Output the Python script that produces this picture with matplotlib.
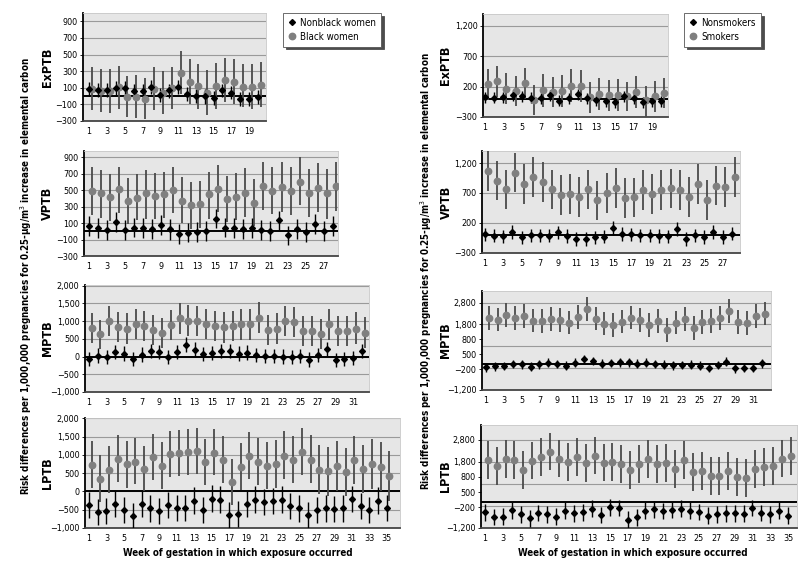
import matplotlib
matplotlib.use("Agg")
import matplotlib.pyplot as plt
import numpy as np

plt.rcParams['font.family'] = ['DejaVu Sans']
plt.rcParams['font.stretch'] = 'condensed'

# ---------------- data: left column (race) ----------------
ex_weeks = list(range(1, 21))
vp_weeks = list(range(1, 29))
mp_weeks = list(range(1, 33))
lp_weeks = list(range(1, 36))

# ExPTB
ex_nb_est = [84, 72, 72, 92, 92, 60, 64, 104, 16, 68, 104, 24, 3, -5, -21, 68, 40, -33, -33, -17]
ex_nb_lo = [0, -10, -15, 5, 10, -30, -25, 20, -70, -20, 20, -60, -85, -90, -105, -10, -40, -120, -120, -100]
ex_nb_hi = [165, 155, 160, 180, 180, 145, 150, 190, 100, 150, 190, 110, 90, 80, 65, 150, 125, 55, 50, 70]
ex_bw_est = [90, 64, 60, 104, -10, -10, -30, 90, 40, 100, 280, 173, 120, 40, 120, 193, 173, 112, 112, 130]
ex_bw_lo = [-163, -190, -203, -150, -251, -260, -272, -163, -210, -160, 20, -90, -150, -223, -150, -70, -90, -130, -150, -130]
ex_bw_hi = [355, 322, 322, 363, 241, 253, 220, 346, 302, 355, 544, 443, 386, 314, 395, 463, 443, 382, 382, 410]

# VPTB
vp_nb_est = [65, 41, 20, 110, 16, 45, 41, 33, 81, 24, -37, -16, -12, 8, 155, 45, 41, 33, 41, 20, 8, 134, -49, 28, -8, 85, 4, 65]
vp_nb_lo = [-55, -80, -100, -10, -105, -75, -80, -90, -40, -100, -155, -135, -130, -115, 35, -75, -80, -90, -80, -100, -115, 15, -165, -95, -130, -35, -120, -55]
vp_nb_hi = [185, 160, 140, 230, 135, 165, 160, 150, 200, 145, 85, 105, 110, 130, 275, 165, 160, 155, 160, 140, 130, 250, 70, 150, 115, 205, 125, 190]
vp_bw_est = [493, 460, 411, 509, 371, 407, 468, 427, 448, 500, 371, 318, 326, 448, 513, 387, 411, 468, 346, 550, 493, 541, 489, 603, 468, 529, 460, 550]
vp_bw_lo = [195, 167, 122, 224, 94, 134, 155, 147, 167, 224, 102, 33, 45, 155, 236, 114, 134, 175, 61, 257, 208, 236, 195, 318, 175, 236, 155, 248]
vp_bw_hi = [786, 745, 692, 786, 644, 692, 745, 705, 725, 786, 656, 603, 611, 725, 806, 672, 705, 766, 631, 839, 786, 839, 786, 900, 754, 827, 757, 847]

# MPTB
mp_nb_est = [-66, 28, -19, 123, 85, -57, 57, 151, 123, -9, 123, 340, 198, 66, 94, 151, 160, 85, 113, 38, 9, 9, 0, -9, 9, -85, 38, 208, -104, -75, -47, 151]
mp_nb_lo = [-266, -172, -219, -77, -115, -257, -143, -49, -77, -209, -77, 140, -2, -134, -106, -49, -40, -115, -87, -162, -191, -191, -200, -209, -191, -285, -162, 8, -304, -275, -247, -49]
mp_nb_hi = [134, 228, 181, 323, 285, 143, 257, 351, 323, 191, 323, 540, 398, 266, 294, 351, 360, 285, 313, 238, 209, 209, 200, 191, 209, 115, 238, 408, 96, 125, 153, 351]
mp_bw_est = [811, 623, 1009, 840, 792, 915, 868, 745, 670, 887, 1075, 1009, 1009, 915, 868, 821, 868, 906, 906, 1094, 745, 792, 1000, 981, 717, 717, 623, 906, 717, 717, 792, 679]
mp_bw_lo = [386, 200, 585, 415, 368, 490, 445, 320, 245, 465, 650, 585, 585, 490, 445, 395, 445, 480, 480, 670, 320, 365, 575, 555, 290, 290, 200, 480, 290, 290, 365, 255]
mp_bw_hi = [1226, 1028, 1434, 1245, 1217, 1340, 1280, 1170, 1075, 1311, 1500, 1453, 1434, 1330, 1292, 1245, 1292, 1330, 1330, 1528, 1170, 1217, 1434, 1406, 1142, 1142, 1047, 1330, 1142, 1142, 1245, 1123]

# LPTB
lp_nb_est = [-362, -560, -532, -334, -513, -673, -343, -465, -532, -362, -456, -447, -250, -513, -194, -222, -644, -625, -343, -222, -297, -259, -222, -391, -465, -635, -503, -465, -484, -465, -212, -391, -513, -250, -456]
lp_nb_lo = [-722, -920, -892, -694, -873, -1033, -703, -825, -892, -722, -816, -807, -610, -873, -554, -582, -1004, -985, -703, -582, -657, -619, -582, -751, -825, -995, -863, -825, -844, -825, -572, -751, -873, -610, -816]
lp_nb_hi = [-2, -200, -172, 26, -153, -313, 17, -105, -172, -2, -96, -87, 110, -153, 166, 138, -284, -265, 17, 138, 63, 101, 138, -31, -105, -275, -143, -105, -124, -105, 148, -31, -153, 110, -96]
lp_bw_est = [720, 343, 597, 889, 739, 814, 607, 936, 701, 1030, 1039, 1067, 1095, 795, 1058, 861, 249, 673, 983, 814, 701, 748, 983, 861, 1086, 861, 597, 550, 692, 531, 851, 607, 748, 673, 428]
lp_bw_lo = [100, -300, -50, 250, 100, 200, 0, 300, 80, 400, 420, 450, 480, 170, 450, 230, -380, 30, 340, 180, 60, 100, 350, 220, 450, 220, -80, -130, 20, -120, 200, -40, 80, 10, -250]
lp_bw_hi = [1370, 1000, 1250, 1550, 1380, 1450, 1250, 1580, 1340, 1650, 1680, 1720, 1750, 1430, 1720, 1520, 900, 1330, 1640, 1450, 1350, 1400, 1650, 1530, 1750, 1540, 1270, 1210, 1370, 1200, 1530, 1280, 1430, 1350, 1100]

# ---------------- data: right column (smoking) ----------------
ex_ns_est = [22, 16, 22, 55, 38, 16, 5, 60, -33, 5, 76, 11, -27, -38, -55, 38, 5, -55, -44, -44]
ex_ns_lo = [-68, -74, -68, -35, -52, -74, -85, -30, -123, -85, -14, -79, -117, -128, -145, -52, -85, -145, -134, -134]
ex_ns_hi = [112, 106, 112, 145, 128, 106, 95, 150, 57, 95, 166, 101, 63, 52, 35, 128, 95, 35, 46, 46]
ex_sm_est = [238, 284, 167, 123, 250, -16, 139, 118, 134, 216, 211, 27, 76, 55, 65, 38, 109, -27, 38, 93]
ex_sm_lo = [-15, 25, -90, -125, -5, -270, -130, -130, -130, -55, -50, -230, -190, -205, -195, -195, -150, -330, -225, -155]
ex_sm_hi = [489, 543, 424, 369, 505, 232, 407, 364, 396, 489, 472, 281, 342, 315, 325, 270, 369, 216, 298, 342]

vp_ns_est = [11, -11, -22, 50, -39, -6, -6, -11, 44, -17, -66, -66, -39, -28, 116, 17, 11, -6, -6, -17, -22, 99, -66, -6, -33, 50, -33, 22]
vp_ns_lo = [-99, -121, -132, -60, -149, -116, -116, -121, -66, -127, -176, -176, -149, -138, 6, -93, -99, -116, -116, -127, -132, -11, -176, -116, -143, -60, -143, -88]
vp_ns_hi = [121, 99, 88, 160, 71, 104, 104, 99, 154, 93, 44, 44, 71, 82, 226, 127, 121, 104, 104, 93, 88, 209, 44, 104, 77, 160, 77, 132]
vp_sm_est = [1062, 908, 759, 1040, 853, 963, 880, 759, 665, 682, 638, 759, 577, 698, 787, 621, 627, 748, 682, 748, 776, 748, 632, 853, 583, 825, 803, 963]
vp_sm_lo = [732, 578, 429, 710, 523, 633, 550, 429, 335, 352, 308, 429, 247, 368, 457, 291, 297, 418, 352, 418, 446, 418, 302, 523, 253, 495, 473, 633]
vp_sm_hi = [1420, 1238, 1089, 1370, 1183, 1293, 1210, 1089, 995, 1012, 968, 1089, 907, 1028, 1117, 951, 957, 1078, 1012, 1078, 1106, 1078, 962, 1183, 913, 1155, 1133, 1293]

mp_ns_est = [-167, -122, -107, -15, -30, -137, -30, 46, -15, -91, 46, 213, 122, 0, 30, 61, 61, 0, 46, -15, -46, -76, -61, -46, -91, -183, -61, 91, -213, -183, -198, 15]
mp_ns_lo = [-367, -322, -307, -215, -230, -337, -230, -154, -215, -291, -154, 13, -78, -200, -170, -139, -139, -200, -154, -215, -246, -276, -261, -246, -291, -383, -261, -109, -413, -383, -398, -185]
mp_ns_hi = [33, 78, 93, 185, 170, 63, 170, 246, 185, 109, 246, 413, 322, 200, 230, 261, 261, 200, 246, 185, 154, 124, 139, 154, 109, 17, 139, 291, -13, 17, 2, 215]
mp_sm_est = [2085, 2024, 2222, 2100, 2176, 1979, 1948, 2040, 2009, 1887, 2146, 2496, 2070, 1842, 1781, 1933, 2116, 2009, 1766, 1963, 1553, 1887, 2055, 1629, 1918, 1948, 2085, 2420, 1918, 1857, 2192, 2298]
mp_sm_lo = [1545, 1484, 1682, 1560, 1636, 1439, 1408, 1500, 1469, 1347, 1606, 1956, 1530, 1302, 1241, 1393, 1576, 1469, 1226, 1423, 1013, 1347, 1515, 1089, 1378, 1408, 1545, 1880, 1378, 1317, 1652, 1758]
mp_sm_hi = [2625, 2564, 2762, 2640, 2716, 2519, 2488, 2580, 2549, 2427, 2686, 3036, 2610, 2382, 2321, 2473, 2656, 2549, 2306, 2503, 2093, 2427, 2595, 2169, 2458, 2488, 2625, 2960, 2458, 2397, 2732, 2838]

lp_ns_est = [-485, -697, -682, -394, -576, -758, -515, -576, -682, -409, -530, -485, -318, -606, -258, -288, -818, -712, -409, -348, -424, -379, -318, -409, -470, -636, -576, -530, -530, -545, -288, -515, -576, -409, -636]
lp_ns_lo = [-865, -1077, -1062, -774, -956, -1138, -895, -956, -1062, -789, -910, -865, -698, -986, -638, -668, -1198, -1092, -789, -728, -804, -759, -698, -789, -850, -1016, -956, -910, -910, -925, -668, -895, -956, -789, -1016]
lp_ns_hi = [-105, -317, -302, -14, -196, -378, -135, -196, -302, -29, -150, -105, 62, -226, 122, 92, -438, -332, -29, 32, -44, 1, 62, -29, -90, -256, -196, -150, -150, -165, 92, -135, -196, -29, -256]
lp_sm_est = [1894, 1621, 1924, 1894, 1439, 1864, 2015, 2273, 1955, 1803, 2045, 1742, 2091, 1773, 1818, 1727, 1439, 1697, 1939, 1697, 1742, 1485, 1909, 1333, 1409, 1167, 1167, 1409, 1136, 1091, 1485, 1576, 1621, 1955, 2076]
lp_sm_lo = [1034, 761, 1064, 1034, 579, 1004, 1155, 1413, 1095, 943, 1185, 882, 1231, 913, 958, 867, 579, 837, 1079, 837, 882, 625, 1049, 473, 549, 307, 307, 549, 276, 231, 625, 716, 761, 1095, 1216]
lp_sm_hi = [2754, 2481, 2784, 2754, 2299, 2724, 2875, 3133, 2815, 2663, 2905, 2602, 2951, 2633, 2678, 2587, 2299, 2557, 2799, 2557, 2602, 2345, 2769, 2193, 2269, 2027, 2027, 2269, 1996, 1951, 2345, 2436, 2481, 2815, 2936]

# axis ticks (odd original labelling on right MPTB/LPTB kept as printed)
left_ex_ticks = [-300, -100, 100, 300, 500, 700, 900]
left_big_ticks = [-1000, -500, 0, 500, 1000, 1500, 2000]
right_small_ticks = [-300, 200, 700, 1200]
right_big_grid = [-200, 800, 1800, 2800]
right_big_tickpos = [-1200, -250, 430, 1130, 1800, 2800]
right_big_ticklab = ['−1,200', '−200', '500', '800', '1,800', '2,800']

BG = '#e6e6e6'
GRID = '#9a9a9a'
C1 = 'black'
C2 = '#7f7f7f'
C2BAR = '#4a4a4a'
W, H = 800, 584


def fmt(v):
    return f"{v:,}".replace('-', '−')


def add_ax(x0, y0, x1, y1):
    return fig.add_axes([x0 / W, 1 - y1 / H, (x1 - x0) / W, (y1 - y0) / H])


def panel(ax, weeks, a, b, xlim, ylim, grid, tickpos, ticklab, lab1, lab2):
    ax.set_facecolor(BG)
    x = np.array(weeks, dtype=float)
    est1, lo1, hi1 = map(np.array, a)
    est2, lo2, hi2 = map(np.array, b)
    ax.vlines(x + 0.3, lo2, hi2, color=C2BAR, lw=1.3, zorder=3)
    ax.vlines(x, lo1, hi1, color=C1, lw=1.0, zorder=4)
    h2 = ax.plot(x + 0.3, est2, 'o', color=C2, ms=4.6, mec=C2, zorder=5, label=lab2)[0]
    h1 = ax.plot(x, est1, 'D', color=C1, ms=3.0, zorder=6, label=lab1)[0]
    for g in grid:
        ax.axhline(g, color=GRID, lw=0.8, zorder=1)
    ax.axhline(0, color='black', lw=1.4, zorder=2)
    ax.set_xlim(*xlim)
    ax.set_ylim(*ylim)
    ax.set_xticks(list(range(1, len(weeks) + 1, 2)))
    ax.set_yticks(tickpos)
    ax.set_yticklabels(ticklab)
    ax.tick_params(axis='both', labelsize=6.5, length=2, width=0.6, pad=2)
    ax.tick_params(axis='x', length=0, pad=4)
    for s in ['top', 'right']:
        ax.spines[s].set_color('#c8c8c8')
        ax.spines[s].set_linewidth(0.6)
    ax.spines['left'].set_linewidth(1.3)
    ax.spines['bottom'].set_linewidth(1.3)
    ax.spines['bottom'].set_color('#444444')
    return h1, h2


fig = plt.figure(figsize=(8, 5.84), dpi=100)

specs_left = [
    ((83, 13, 266, 121), ex_weeks, (ex_nb_est, ex_nb_lo, ex_nb_hi), (ex_bw_est, ex_bw_lo, ex_bw_hi),
     (0.3, 20.9), (-300, 1000), left_ex_ticks, left_ex_ticks, 'ExPTB'),
    ((84, 151, 338, 256), vp_weeks, (vp_nb_est, vp_nb_lo, vp_nb_hi), (vp_bw_est, vp_bw_lo, vp_bw_hi),
     (0.45, 28.55), (-300, 975), left_ex_ticks, left_ex_ticks, 'VPTB'),
    ((85, 285, 369, 392), mp_weeks, (mp_nb_est, mp_nb_lo, mp_nb_hi), (mp_bw_est, mp_bw_lo, mp_bw_hi),
     (0.55, 32.8), (-1000, 2020), left_big_ticks, left_big_ticks, 'MPTB'),
    ((85, 418, 400, 528), lp_weeks, (lp_nb_est, lp_nb_lo, lp_nb_hi), (lp_bw_est, lp_bw_lo, lp_bw_hi),
     (0.55, 36.5), (-1000, 2010), left_big_ticks, left_big_ticks, 'LPTB'),
]
specs_right = [
    ((483, 14, 668, 117), ex_weeks, (ex_ns_est, ex_ns_lo, ex_ns_hi), (ex_sm_est, ex_sm_lo, ex_sm_hi),
     (0.8, 20.7), (-300, 1390), right_small_ticks, right_small_ticks, 'ExPTB'),
    ((482, 151, 740, 253), vp_weeks, (vp_ns_est, vp_ns_lo, vp_ns_hi), (vp_sm_est, vp_sm_lo, vp_sm_hi),
     (0.67, 28.9), (-300, 1400), right_small_ticks, right_small_ticks, 'VPTB'),
    ((482, 291, 771, 390), mp_weeks, (mp_ns_est, mp_ns_lo, mp_ns_hi), (mp_sm_est, mp_sm_lo, mp_sm_hi),
     (0.55, 33.0), (-1200, 3330), right_big_grid, right_big_tickpos, 'MPTB'),
    ((481, 425, 797, 528), lp_weeks, (lp_ns_est, lp_ns_lo, lp_ns_hi), (lp_sm_est, lp_sm_lo, lp_sm_hi),
     (0.55, 36.0), (-1200, 3480), right_big_grid, right_big_tickpos, 'LPTB'),
]

handles = {}
for col, specs, labs, lx in [('L', specs_left, ('Nonblack women', 'Black women'), 47),
                             ('R', specs_right, ('Nonsmokers', 'Smokers'), 446)]:
    for rect, weeks, a, b, xlim, ylim, grid, tpos, name in specs:
        ax = add_ax(*rect)
        if col == 'R' and name in ('MPTB', 'LPTB'):
            tlab = right_big_ticklab
        else:
            tlab = [fmt(t) for t in tpos]
        h = panel(ax, weeks, a, b, xlim, ylim, grid, tpos, tlab, *labs)
        handles[col] = h
        yc = (rect[1] + rect[3]) / 2
        fig.text(lx / W, 1 - yc / H, name, rotation=90, ha='center', va='center',
                 fontsize=9, fontweight='bold')

ylab = 'Risk differences per 1,000,000 pregnancies for 0.25-µg/m$^3$ increase in elemental carbon'
fig.text(26 / W, 1 - 276 / H, ylab, rotation=90, ha='center', va='center',
         fontsize=7.0, fontweight='bold')
fig.text(426 / W, 1 - 271 / H, ylab, rotation=90, ha='center', va='center',
         fontsize=7.0, fontweight='bold')

xlab = 'Week of gestation in which exposure occurred'
fig.text(238 / W, 1 - 553 / H, xlab, ha='center', va='center', fontsize=7.0, fontweight='bold')
fig.text(633 / W, 1 - 553 / H, xlab, ha='center', va='center', fontsize=7.0, fontweight='bold')

for col, x0 in [('L', 283), ('R', 684)]:
    leg = fig.legend(handles=list(handles[col]), loc='upper left',
                     bbox_to_anchor=(x0 / W, 1 - 13 / H), fontsize=7,
                     frameon=True, fancybox=False, edgecolor='#555555',
                     shadow={'color': '0.3', 'alpha': 1.0},
                     handlelength=0.8, handletextpad=0.5, borderpad=0.5,
                     labelspacing=0.4, borderaxespad=0)
    leg.get_frame().set_linewidth(0.6)

fig.savefig('out.png', dpi=100)
